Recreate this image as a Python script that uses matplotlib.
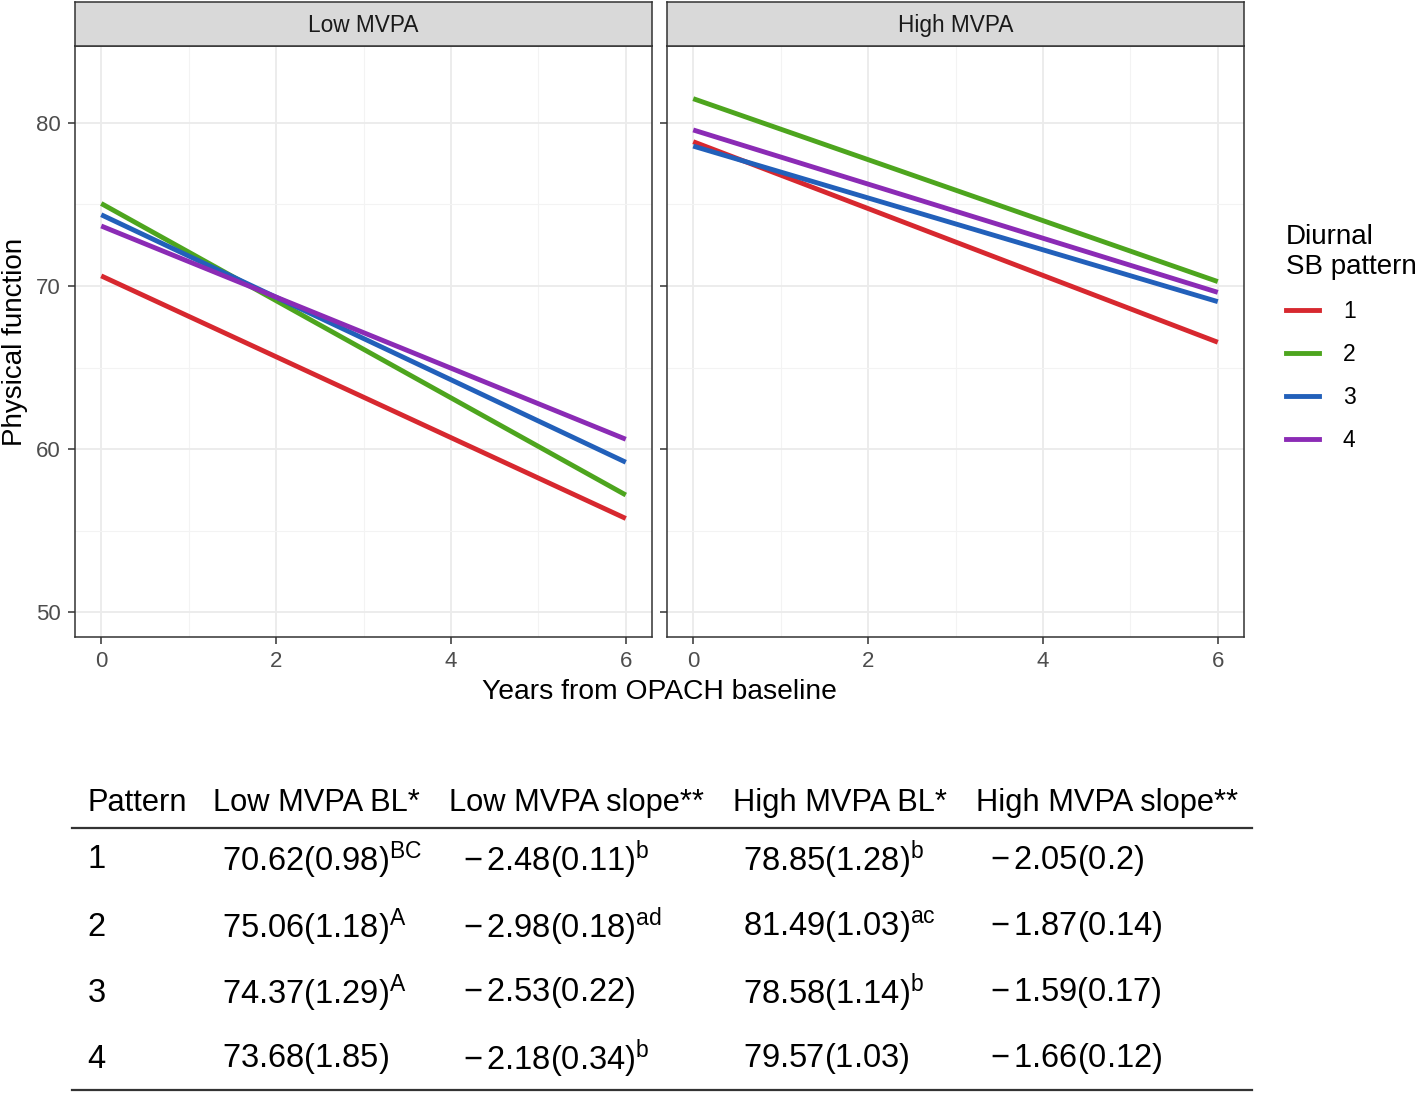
import matplotlib
matplotlib.use("Agg")
import numpy as np
from matplotlib import pyplot as plt
from matplotlib.lines import Line2D

plt.rcParams['font.family'] = ['Liberation Sans', 'DejaVu Sans']
plt.rcParams['mathtext.fontset'] = 'custom'
plt.rcParams['mathtext.rm'] = 'Liberation Sans'
plt.rcParams['mathtext.it'] = 'Liberation Sans'

# data
patterns = ['1', '2', '3', '4']
panels = ['Low MVPA', 'High MVPA']
bl_low = [70.62, 75.06, 74.37, 73.68]
bl_low_se = [0.98, 1.18, 1.29, 1.85]
bl_low_sup = ['BC', 'A', 'A', '']
slope_low = [-2.48, -2.98, -2.53, -2.18]
slope_low_se = [0.11, 0.18, 0.22, 0.34]
slope_low_sup = ['b', 'ad', '', 'b']
bl_high = [78.85, 81.49, 78.58, 79.57]
bl_high_se = [1.28, 1.03, 1.14, 1.03]
bl_high_sup = ['b', 'ac', 'b', '']
slope_high = [-2.05, -1.87, -1.59, -1.66]
slope_high_se = ['0.2', '0.14', '0.17', '0.12']
slope_high_sup = ['', '', '', '']
years = np.array([0, 6])
headers = ['Pattern', 'Low MVPA BL*', 'Low MVPA slope**', 'High MVPA BL*', 'High MVPA slope**']

colors = ['#D7282F', '#4DA51E', '#2260BA', '#8B2BB5']

W, H = 1418, 1095
fig = plt.figure(figsize=(W / 100, H / 100), dpi=100)


def fx(px):
    return px / W


def fy(py):
    return 1 - py / H


grey20 = '#333333'
axes_left = [75, 667]
pw = 577
top, bottom = 46, 637
intercepts = [bl_low, bl_high]
slopes = [slope_low, slope_high]

for k in range(2):
    ax = fig.add_axes([fx(axes_left[k]), fy(bottom), fx(pw), (bottom - top) / H])
    for i in range(4):
        ax.plot(years, intercepts[k][i] + slopes[k][i] * years, color=colors[i], lw=3.5,
                solid_capstyle='butt', zorder=3)
    ax.set_xlim(-0.3, 6.3)
    ax.set_ylim(48.47, 84.72)
    ax.set_xticks([0, 2, 4, 6])
    ax.set_xticks([1, 3, 5], minor=True)
    ax.set_yticks([50, 60, 70, 80])
    ax.set_yticks([55, 65, 75], minor=True)
    ax.grid(which='major', color='#EBEBEB', lw=1.3, zorder=0)
    ax.grid(which='minor', color='#F3F3F3', lw=0.8, zorder=0)
    ax.tick_params(which='minor', length=0)
    ax.tick_params(which='major', length=5, width=1.1, color=grey20, labelsize=16,
                   labelcolor='#4D4D4D', pad=5)
    for s in ax.spines.values():
        s.set_color(grey20)
        s.set_linewidth(1.1)
    if k == 1:
        ax.set_yticklabels([])
    else:
        ax.set_ylabel('Physical function', fontsize=20, labelpad=6)
    # strip
    sax = fig.add_axes([fx(axes_left[k]), fy(top), fx(pw), (top - 2) / H])
    sax.set_facecolor('#D9D9D9')
    sax.set_xticks([])
    sax.set_yticks([])
    for s in sax.spines.values():
        s.set_color(grey20)
        s.set_linewidth(1.1)
    sax.text(0.5, 0.47, panels[k], ha='center', va='center', fontsize=16.3, color='#1A1A1A',
             transform=sax.transAxes)

fig.text(fx(659), fy(692), 'Years from OPACH baseline', ha='center', va='center', fontsize=20.3)

# legend
handles = [Line2D([0], [0], color=c, lw=3.5) for c in colors]
leg = fig.legend(handles, patterns, title='Diurnal\nSB pattern', loc='upper left',
                 bbox_to_anchor=(fx(1265), fy(203)), frameon=False, fontsize=16.5,
                 title_fontsize=20, handlelength=1.45, labelspacing=0.88, handletextpad=1.05)
leg._legend_box.align = 'left'

# table
col_head_x = [87, 213, 449, 733, 976]
col_cell_x = [87, 222, 463, 743, 990]
row_y = [860, 927, 993, 1059]


def cell(v, se, sup):
    s = r'%s(%s)' % (v, se)
    if sup:
        s += r'^{%s}' % sup
    return r'$\mathregular{' + s.replace('-', '{-}\\,') + '}$'


for j, h in enumerate(headers):
    fig.text(fx(col_head_x[j]), fy(803), h, ha='left', va='center', fontsize=22.2)

for i in range(4):
    vals = [
        r'$\mathregular{%s}$' % patterns[i],
        cell('%.2f' % bl_low[i], '%.2f' % bl_low_se[i], bl_low_sup[i]),
        cell('%.2f' % slope_low[i], '%.2f' % slope_low_se[i], slope_low_sup[i]),
        cell('%.2f' % bl_high[i], '%.2f' % bl_high_se[i], bl_high_sup[i]),
        cell('%.2f' % slope_high[i], slope_high_se[i], slope_high_sup[i]),
    ]
    for j, v in enumerate(vals):
        fig.text(fx(col_cell_x[j]), fy(row_y[i]), v, ha='left', va='center', fontsize=23.5)

for yy in [828, 1090]:
    fig.add_artist(Line2D([fx(72), fx(1252)], [fy(yy), fy(yy)], color=grey20, lw=1.6))

fig.savefig('out.png', dpi=100)
